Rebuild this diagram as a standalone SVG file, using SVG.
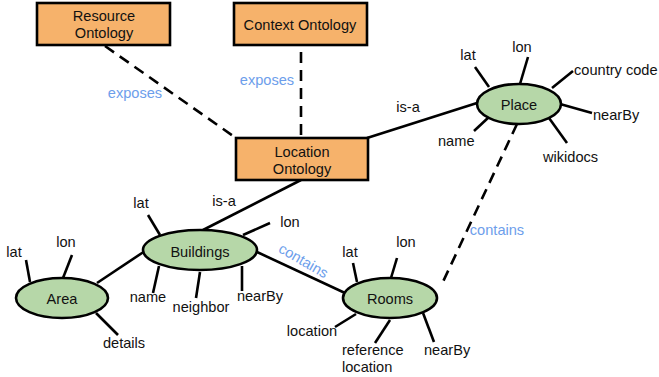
<svg xmlns="http://www.w3.org/2000/svg" width="659" height="377" viewBox="0 0 659 377">
  <style>
    text { font-family: "Liberation Sans", Arial, sans-serif; font-size: 14.6px; fill: #111; }
    .mid { text-anchor: middle; }
    .blue { fill: #6d9eeb; }
    .box { fill: #f6b26b; stroke: #000; stroke-width: 2.6; }
    .oval { fill: #b6d7a8; stroke: #000; stroke-width: 2.6; }
    .edge { stroke: #000; stroke-width: 2.6; fill: none; }
    .dash { stroke: #000; stroke-width: 2.6; fill: none; stroke-dasharray: 11 7; }
    .spoke { stroke: #000; stroke-width: 2.6; }
  </style>
  <rect width="659" height="377" fill="#fff"/>

  <g id="connectors">
    <line class="dash" x1="105" y1="46" x2="236" y2="138"/>
    <line class="dash" x1="301" y1="52" x2="301" y2="138"/>
    <line class="edge" x1="367" y1="138" x2="477" y2="103"/>
    <line class="edge" x1="301" y1="180" x2="203" y2="230"/>
    <line class="edge" x1="97" y1="283" x2="145" y2="251"/>
    <line class="edge" x1="257" y1="252" x2="345" y2="293"/>
    <line class="dash" x1="517" y1="124" x2="441" y2="286"/>
    <text class="blue mid" x="135" y="98">exposes</text>
    <text class="blue mid" x="267" y="85">exposes</text>
    <text class="mid" x="408" y="112">is-a</text>
    <text class="mid" x="224" y="206">is-a</text>
    <text class="blue mid" x="301" y="265" transform="rotate(30 301 265)">contains</text>
    <text class="blue mid" x="497" y="235">contains</text>
  </g>

  <g id="resource-ontology">
    <rect class="box" x="37" y="3" width="133" height="42"/>
    <text class="mid" x="104" y="21">Resource</text>
    <text class="mid" x="104" y="38">Ontology</text>
  </g>

  <g id="context-ontology">
    <rect class="box" x="234" y="3" width="133" height="42"/>
    <text class="mid" x="300" y="30">Context Ontology</text>
  </g>

  <g id="location-ontology">
    <rect class="box" x="236" y="138" width="132" height="42"/>
    <text class="mid" x="302" y="157">Location</text>
    <text class="mid" x="302" y="174">Ontology</text>
  </g>

  <g id="place">
    <line class="spoke" x1="475" y1="67" x2="489" y2="87"/>
    <line class="spoke" x1="528" y1="57" x2="520" y2="84"/>
    <line class="spoke" x1="552" y1="88" x2="573" y2="71"/>
    <line class="spoke" x1="560" y1="104" x2="592" y2="113"/>
    <line class="spoke" x1="549" y1="118" x2="567" y2="143"/>
    <line class="spoke" x1="489" y1="117" x2="474" y2="131"/>
    <ellipse class="oval" cx="519" cy="104" rx="42" ry="20"/>
    <text class="mid" x="519" y="110">Place</text>
    <text class="mid" x="468" y="60">lat</text>
    <text class="mid" x="522" y="52">lon</text>
    <text x="574" y="75">country code</text>
    <text x="593" y="120">nearBy</text>
    <text x="543" y="162">wikidocs</text>
    <text x="438" y="146">name</text>
  </g>

  <g id="buildings">
    <line class="spoke" x1="148" y1="215" x2="160" y2="235"/>
    <line class="spoke" x1="243" y1="235" x2="270" y2="223"/>
    <line class="spoke" x1="159" y1="266" x2="153" y2="293"/>
    <line class="spoke" x1="200" y1="272" x2="196" y2="298"/>
    <line class="spoke" x1="242" y1="266" x2="242" y2="291"/>
    <ellipse class="oval" cx="200" cy="250" rx="57" ry="20"/>
    <text class="mid" x="200" y="257">Buildings</text>
    <text class="mid" x="141" y="208">lat</text>
    <text class="mid" x="290" y="227">lon</text>
    <text class="mid" x="148" y="302">name</text>
    <text class="mid" x="201" y="312">neighbor</text>
    <text class="mid" x="260" y="301">nearBy</text>
  </g>

  <g id="area">
    <line class="spoke" x1="26" y1="260" x2="30" y2="282"/>
    <line class="spoke" x1="72" y1="255" x2="63" y2="278"/>
    <line class="spoke" x1="96" y1="313" x2="118" y2="335"/>
    <ellipse class="oval" cx="62" cy="298" rx="46" ry="20"/>
    <text class="mid" x="62" y="304">Area</text>
    <text class="mid" x="14" y="257">lat</text>
    <text class="mid" x="66" y="247">lon</text>
    <text class="mid" x="124" y="348">details</text>
  </g>

  <g id="rooms">
    <line class="spoke" x1="353" y1="263" x2="357" y2="282"/>
    <line class="spoke" x1="397" y1="258" x2="391" y2="278"/>
    <line class="spoke" x1="356" y1="314" x2="335" y2="327"/>
    <line class="spoke" x1="390" y1="320" x2="375" y2="343"/>
    <line class="spoke" x1="423" y1="313" x2="434" y2="342"/>
    <ellipse class="oval" cx="390" cy="298" rx="47" ry="20"/>
    <text class="mid" x="390" y="304">Rooms</text>
    <text class="mid" x="350" y="257">lat</text>
    <text class="mid" x="406" y="247">lon</text>
    <text class="mid" x="312" y="336">location</text>
    <text x="342" y="355">reference</text>
    <text x="342" y="372">location</text>
    <text x="424" y="355">nearBy</text>
  </g>
</svg>
